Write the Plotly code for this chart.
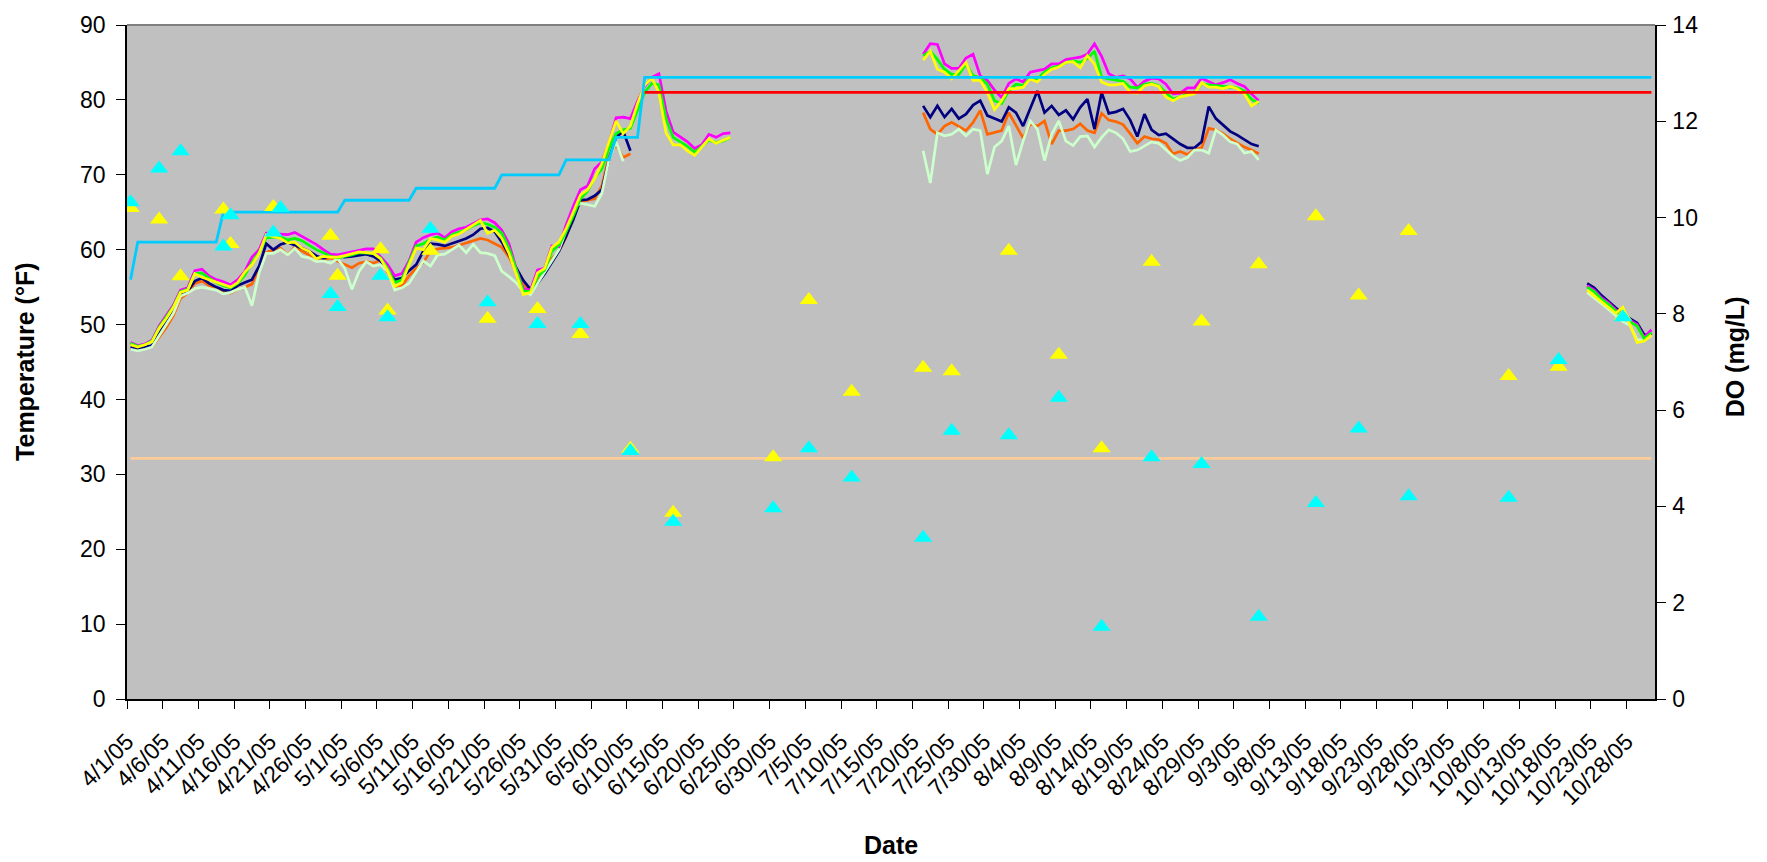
import plotly.graph_objects as go
import pandas as pd

# ---------------- data ----------------
SEG1_START = "2005-04-01"   # 4/1/05 .. 6/24/05
SEG2_START = "2005-07-21"   # 7/21/05 .. 9/6/05
SEG3_START = "2005-10-22"   # 10/22/05 .. 10/31/05

magenta_1 = [47.6, 47.2, 47.4, 47.9, 49.8, 51.2, 52.6, 54.6, 54.9, 57.2,
             57.4, 56.5, 56.0, 55.7, 55.3, 56.0, 57.1, 59.0, 60.0, 62.2,
             62.1, 62.0, 62.0, 62.3, 61.8, 61.3, 60.7, 60.0, 59.4, 59.3,
             59.5, 59.7, 60.0, 60.1, 60.1, 59.0, 58.0, 56.5, 56.8, 58.5,
             61.0, 61.6, 62.0, 62.2, 61.6, 62.4, 62.8, 63.0, 63.5, 64.0,
             64.1, 63.6, 62.6, 60.8, 57.5, 54.8, 54.6, 57.3, 57.5, 60.5,
             60.4, 63.3, 65.8, 68.0, 68.5, 70.8, 71.7, 74.2, 77.6, 77.7,
             77.5, 79.8, 81.8, 83.0, 83.5, 78.5, 75.7, 75.0, 74.4, 73.5,
             74.0, 75.4, 75.0, 75.5, 75.6]
magenta_2 = [86.1, 87.5, 87.4, 84.8, 84.2, 84.2, 85.6, 86.1, 83.2, 82.6,
             81.3, 80.3, 82.2, 82.8, 82.4, 83.7, 83.9, 84.1, 84.8, 84.8,
             85.4, 85.6, 85.7, 86.1, 87.5, 85.8, 83.5, 83.0, 83.2, 82.8,
             81.7, 82.5, 82.9, 82.8, 82.1, 80.8, 80.9, 81.6, 81.6, 82.9,
             82.5, 82.0, 82.3, 82.7, 82.2, 81.8, 80.8, 79.9]
magenta_3 = [55.2, 54.6, 53.6, 52.9, 52.0, 51.2, 50.6, 50.0, 48.3, 49.3]

green_1 = [47.5, 47.1, 47.3, 47.8, 49.6, 51.0, 52.4, 54.4, 54.7, 56.8,
           56.9, 56.2, 55.6, 55.2, 54.9, 55.5, 56.6, 58.3, 59.6, 61.6,
           61.6, 61.7, 61.3, 61.5, 61.2, 60.6, 60.0, 59.6, 59.1, 58.9,
           59.1, 59.3, 59.6, 59.6, 59.5, 58.9, 57.5, 55.6, 56.0, 58.3,
           60.5, 60.8, 61.4, 61.7, 61.3, 62.0, 62.3, 62.7, 63.2, 63.6,
           63.4, 63.0, 62.2, 60.2, 57.4, 54.5, 54.4, 56.4, 57.3, 59.8,
           60.6, 62.4, 64.5, 66.8, 67.8, 69.6, 70.8, 73.5, 75.5, 76.0,
           76.2, 78.5, 81.0, 82.2, 82.0, 77.5, 75.0, 74.4, 73.8, 73.0,
           73.8, 74.6, 74.3, 74.5, 75.0]
green_2 = [85.9, 86.5, 85.4, 84.1, 83.4, 83.4, 84.8, 83.2, 83.0, 82.1,
           79.9, 79.5, 81.2, 82.1, 81.9, 83.0, 82.8, 83.7, 84.3, 84.5,
           85.0, 85.2, 85.0, 85.5, 86.5, 83.0, 82.8, 82.7, 82.5, 81.7,
           81.6, 82.1, 82.2, 81.9, 81.0, 80.1, 80.4, 80.8, 80.9, 82.2,
           82.0, 81.9, 81.9, 81.7, 81.6, 81.2, 80.1, 79.5]
green_3 = [55.0, 54.4, 53.4, 52.7, 51.8, 51.0, 50.4, 49.8, 48.1, 48.9]

yellow_1 = [47.3, 47.0, 47.3, 47.7, 49.5, 50.8, 52.3, 54.3, 54.6, 56.8,
            56.3, 56.0, 55.7, 55.3, 55.0, 55.6, 57.0, 58.0, 59.5, 62.0,
            61.7, 61.5, 60.9, 61.0, 60.2, 59.8, 58.8, 59.1, 59.0, 59.0,
            59.2, 59.5, 59.7, 59.6, 59.5, 58.8, 57.2, 55.1, 55.6, 58.0,
            60.2, 60.0, 61.5, 61.3, 61.0, 61.8, 62.1, 62.7, 63.3, 63.9,
            62.2, 62.6, 61.5, 59.5, 56.8, 54.0, 54.3, 56.9, 57.5, 60.3,
            61.0, 62.8, 65.0, 67.3, 68.0, 69.5, 71.5, 74.5, 77.2, 75.5,
            76.5, 79.5, 82.0, 82.9, 81.0, 75.6, 74.0, 74.0, 73.2, 72.6,
            73.7, 74.8, 74.2, 74.6, 75.0]
yellow_2 = [85.3, 86.5, 84.1, 83.7, 82.8, 83.9, 85.0, 82.6, 82.6, 81.0,
            78.7, 79.9, 81.5, 81.5, 81.7, 82.8, 82.4, 83.4, 84.1, 84.4,
            85.0, 85.1, 84.3, 85.9, 84.8, 82.4, 82.0, 82.0, 82.2, 81.0,
            80.9, 81.9, 82.1, 81.8, 80.4, 79.9, 80.4, 80.6, 80.8, 82.3,
            81.7, 81.7, 81.5, 81.8, 81.5, 80.8, 79.2, 79.8]
yellow_3 = [54.6, 53.8, 53.0, 52.3, 51.5, 52.3, 50.0, 47.6, 47.8, 48.6]

navy_1 = [47.0, 46.8, 47.0, 47.2, 48.8, 50.2, 51.8, 54.0, 54.5, 55.8,
          56.2, 55.5, 55.0, 54.6, 54.5, 55.2, 55.6, 56.0, 57.8, 60.8,
          60.0, 60.7, 61.0, 60.6, 60.3, 59.8, 59.2, 58.8, 59.3, 59.2,
          59.0, 59.1, 59.3, 59.4, 59.1, 58.5, 57.2, 56.0, 56.2, 57.2,
          58.0, 59.8, 60.8, 60.7, 60.5, 60.8, 61.1, 61.5, 62.0, 62.8,
          62.9, 62.4, 61.0, 59.3, 57.6, 55.9, 54.7, 55.5, 56.8, 58.3,
          59.8, 61.8, 64.0, 66.6, 66.7, 67.2, 68.0, 72.0, 75.0, 75.8,
          73.2]
navy_2 = [79.2, 77.7, 79.2, 77.7, 78.8, 77.5, 78.1, 79.3, 79.9, 77.9,
          77.5, 77.1, 79.0, 78.3, 76.5, 78.8, 81.2, 78.3, 79.2, 78.0,
          78.6, 77.4, 79.0, 80.1, 76.1, 81.0, 78.2, 78.4, 78.8, 77.3,
          75.1, 78.1, 76.0, 75.3, 75.5, 74.8, 74.1, 73.6, 73.6, 74.4,
          79.1, 77.5, 76.6, 75.8, 75.3, 74.7, 74.1, 73.8]
navy_3 = [55.5, 54.9, 53.9, 53.1, 52.3, 51.4, 50.8, 50.2, 48.6, 48.8]

orange_1 = [46.8, 46.6, 46.8, 47.0, 48.3, 49.6, 51.2, 53.5, 54.2, 55.5,
            55.8, 55.2, 54.8, 54.4, 54.2, 54.7, 55.0, 55.4, 57.5, 59.6,
            60.0, 60.2, 59.3, 60.4, 59.8, 59.3, 59.0, 58.6, 58.9, 58.5,
            58.0, 57.6, 58.2, 58.4, 58.2, 58.6, 57.0, 55.1, 55.2, 56.5,
            57.5, 58.3, 59.8, 60.1, 60.2, 60.3, 60.6, 60.9, 61.3, 61.5,
            61.3, 60.8, 60.3, 59.0, 57.2, 55.4, 54.6, 56.2, 57.4, 58.8,
            59.8, 61.7, 64.5, 66.4, 66.6, 66.8, 68.5, 72.5, 74.0, 72.3,
            72.8]
orange_2 = [78.3, 76.1, 75.4, 76.5, 77.0, 76.5, 75.9, 77.0, 78.6, 75.4,
            75.6, 75.9, 78.3, 76.5, 74.9, 76.8, 76.5, 77.2, 74.1, 75.9,
            75.9, 76.1, 76.8, 75.9, 75.6, 78.2, 77.3, 77.1, 76.7, 75.5,
            74.2, 75.1, 74.8, 74.7, 74.2, 72.8, 73.1, 72.7, 73.4, 73.6,
            76.2, 76.0, 75.5, 74.8, 74.2, 73.7, 73.3, 72.8]
orange_3 = [55.1, 54.5, 53.5, 52.8, 51.9, 51.1, 50.5, 49.9, 48.2, 48.8]

palegreen_1 = [46.7, 46.5, 46.7, 47.0, 48.5, 50.0, 51.5, 53.8, 54.2, 54.8,
               55.0, 54.8, 54.6, 54.1, 54.3, 54.7, 55.0, 52.5, 56.9, 59.5,
               59.5, 60.0, 59.3, 60.2, 59.1, 58.9, 58.4, 58.5, 58.2, 58.8,
               57.5, 54.7, 57.1, 58.4, 57.8, 58.0, 57.1, 54.6, 54.9, 55.5,
               57.0, 58.5, 57.8, 59.3, 59.4, 60.0, 60.6, 59.6, 60.7, 59.6,
               59.5, 59.2, 57.1, 56.4, 55.6, 54.4, 54.0, 55.5, 57.0, 58.5,
               60.0, 62.5, 65.5, 66.2, 66.0, 65.8, 67.5, 72.0, 74.4, 71.8]
palegreen_2 = [73.2, 68.9, 75.6, 75.2, 75.4, 76.1, 75.2, 76.1, 75.9, 70.1,
               73.7, 74.5, 76.5, 71.3, 74.5, 77.2, 76.1, 71.9, 75.4, 77.2,
               74.5, 73.9, 75.1, 75.2, 73.7, 75.0, 76.0, 75.6, 74.8, 73.1,
               73.3, 73.9, 74.4, 74.2, 73.4, 72.5, 71.9, 72.3, 73.3, 73.3,
               72.9, 76.0, 75.3, 74.4, 74.1, 72.9, 73.1, 72.0]
palegreen_3 = [54.3, 53.6, 52.8, 52.0, 51.2, 50.4, 49.9, 48.0, 47.9, 48.5]

# temperature standard (step) : start dates and values
std_dates = ["2005-04-01", "2005-04-02", "2005-04-14", "2005-05-01", "2005-05-11",
             "2005-05-23", "2005-06-01", "2005-06-08", "2005-06-12"]
std_values = [56, 61, 65, 66.6, 68.2, 70, 72, 75, 83]
std_end = "2005-10-31"

red_dates = ["2005-06-12", "2005-10-31"]
red_values = [81, 81]

do_std_dates = ["2005-04-01", "2005-10-31"]
do_std_values = [5, 5]

# DO samples (secondary axis)
do_yellow_dates = ["2005-04-01", "2005-04-05", "2005-04-08", "2005-04-14", "2005-04-15",
                   "2005-04-21", "2005-04-29", "2005-04-30", "2005-05-06", "2005-05-07",
                   "2005-05-13", "2005-05-21", "2005-05-28", "2005-06-03", "2005-06-10",
                   "2005-06-16", "2005-06-30", "2005-07-05", "2005-07-11", "2005-07-21",
                   "2005-07-25", "2005-08-02", "2005-08-09", "2005-08-15", "2005-08-22",
                   "2005-08-29", "2005-09-06", "2005-09-14", "2005-09-20", "2005-09-27",
                   "2005-10-11", "2005-10-18", "2005-10-27"]
do_yellow = [10.2, 9.96, 8.78, 10.17, 9.45, 10.22, 9.62, 8.79, 9.34, 8.07,
             9.31, 7.9, 8.10, 7.58, 5.2, 3.87, 5.02, 8.29, 6.38, 6.88,
             6.81, 9.31, 7.15, 5.21, 9.08, 7.84, 9.03, 10.03, 8.38, 9.72,
             6.71, 6.90, 7.95]

do_cyan_dates = ["2005-04-01", "2005-04-05", "2005-04-08", "2005-04-14", "2005-04-15",
                 "2005-04-21", "2005-04-22", "2005-04-29", "2005-04-30", "2005-05-06",
                 "2005-05-07", "2005-05-13", "2005-05-21", "2005-05-28", "2005-06-03",
                 "2005-06-10", "2005-06-16", "2005-06-30", "2005-07-05", "2005-07-11",
                 "2005-07-21", "2005-07-25", "2005-08-02", "2005-08-09", "2005-08-15",
                 "2005-08-22", "2005-08-29", "2005-09-06", "2005-09-14", "2005-09-20",
                 "2005-09-27", "2005-10-11", "2005-10-18", "2005-10-27"]
do_cyan = [10.32, 11.02, 11.38, 9.40, 10.05, 9.69, 10.2, 8.41, 8.14, 8.79,
           7.93, 9.77, 8.24, 7.79, 7.79, 5.15, 3.68, 3.96, 5.21, 4.60,
           3.35, 5.57, 5.48, 6.26, 1.50, 5.02, 4.88, 1.71, 4.07, 5.62,
           4.21, 4.18, 7.04, 7.93]

AXIS_START = "2005-04-01"
AXIS_LAST_LABEL = "2005-10-28"

# ---------------- helpers ----------------
def day_list(start, n):
    return [d.strftime("%Y-%m-%d") for d in pd.date_range(start, periods=n, freq="D")]


def join_segments(segs):
    xs, ys = [], []
    for start, vals in segs:
        if xs:
            xs.append(None)
            ys.append(None)
        xs += day_list(start, len(vals))
        ys += vals
    return xs, ys


fig = go.Figure()
FONT = "Arial, Liberation Sans, sans-serif"

temp_series = [
    ("#FF6600", [(SEG1_START, orange_1), (SEG2_START, orange_2), (SEG3_START, orange_3)]),
    ("#000080", [(SEG1_START, navy_1), (SEG2_START, navy_2), (SEG3_START, navy_3)]),
    ("#CCFFCC", [(SEG1_START, palegreen_1), (SEG2_START, palegreen_2), (SEG3_START, palegreen_3)]),
    ("#FF00FF", [(SEG1_START, magenta_1), (SEG2_START, magenta_2), (SEG3_START, magenta_3)]),
    ("#00FF00", [(SEG1_START, green_1), (SEG2_START, green_2), (SEG3_START, green_3)]),
    ("#FFFF00", [(SEG1_START, yellow_1), (SEG2_START, yellow_2), (SEG3_START, yellow_3)]),
]
for color, segs in temp_series:
    xs, ys = join_segments(segs)
    fig.add_trace(go.Scatter(x=xs, y=ys, mode="lines", connectgaps=False,
                             line=dict(color=color, width=2.7), showlegend=False))

# step standard expanded to daily values
all_days = pd.date_range(std_dates[0], std_end, freq="D")
std_ts = pd.to_datetime(pd.Series(std_dates))
step_y = []
for d in all_days:
    idx = int((std_ts <= d).sum()) - 1
    step_y.append(std_values[idx])
fig.add_trace(go.Scatter(x=[d.strftime("%Y-%m-%d") for d in all_days], y=step_y,
                         mode="lines", line=dict(color="#00CCFF", width=2.8), showlegend=False))
fig.add_trace(go.Scatter(x=red_dates, y=red_values, mode="lines",
                         line=dict(color="#FF0000", width=2.8), showlegend=False))

# secondary axis
fig.add_trace(go.Scatter(x=do_std_dates, y=do_std_values, mode="lines", yaxis="y2",
                         line=dict(color="#FFCC99", width=2.8), showlegend=False))
fig.add_trace(go.Scatter(x=do_yellow_dates, y=do_yellow, mode="markers", yaxis="y2",
                         marker=dict(symbol="triangle-up", size=16, color="#FFFF00", line=dict(width=0)),
                         showlegend=False))
fig.add_trace(go.Scatter(x=do_cyan_dates, y=do_cyan, mode="markers", yaxis="y2",
                         marker=dict(symbol="triangle-up", size=16, color="#00FFFF", line=dict(width=0)),
                         showlegend=False))

# x ticks every 5 days, placed on day boundaries
tick_days = pd.date_range(AXIS_START, AXIS_LAST_LABEL, freq="5D")
tickvals = [(d - pd.Timedelta(hours=12)).strftime("%Y-%m-%d %H:%M") for d in tick_days]
ticktext = [f"{d.month}/{d.day}/05" for d in tick_days]

fig.update_layout(
    width=1767, height=862,
    margin=dict(l=127, r=112, t=21, b=163, pad=0),
    paper_bgcolor="white", plot_bgcolor="#C0C0C0",
    font=dict(family=FONT, color="black"),
    xaxis=dict(type="date", range=["2005-03-31 12:00", "2005-10-31 12:00"],
               tickmode="array", tickvals=tickvals, ticktext=ticktext, tickangle=-45,
               ticks="outside", ticklen=8, tickcolor="black", tickwidth=1,
               showline=True, linecolor="black", linewidth=2, showgrid=False, zeroline=False,
               tickfont=dict(size=23, family=FONT), ticklabelstandoff=10),
    yaxis=dict(range=[0, 90], tickvals=list(range(0, 91, 10)),
               ticks="outside", ticklen=9, tickcolor="black",
               showline=True, linecolor="black", linewidth=1.5, showgrid=False, zeroline=False,
               tickfont=dict(size=23, family=FONT), ticklabelstandoff=6),
    yaxis2=dict(range=[0, 14], tickvals=list(range(0, 15, 2)), overlaying="y", side="right",
                ticks="outside", ticklen=9, tickcolor="black",
                showline=True, linecolor="black", linewidth=1.5, showgrid=False, zeroline=False,
                tickfont=dict(size=23, family=FONT), ticklabelstandoff=2),
    shapes=[dict(type="line", xref="paper", yref="paper", x0=0, x1=1, y0=1, y1=1,
                 line=dict(color="#808080", width=2))],
    annotations=[
        dict(text="<b>Temperature (°F)</b>", xref="paper", yref="paper", x=-0.0668, y=0.5,
             textangle=-90, showarrow=False, xanchor="center", yanchor="middle",
             font=dict(size=25, family=FONT)),
        dict(text="<b>DO (mg/L)</b>", xref="paper", yref="paper", x=1.0524, y=0.507,
             textangle=-90, showarrow=False, xanchor="center", yanchor="middle",
             font=dict(size=25, family=FONT)),
        dict(text="<b>Date</b>", xref="paper", yref="paper", x=0.5, y=-0.216,
             showarrow=False, xanchor="center", yanchor="middle",
             font=dict(size=25, family=FONT)),
    ],
)

fig.write_html("out.html", config={"displayModeBar": False},
               post_script="document.body.style.margin='0';")
